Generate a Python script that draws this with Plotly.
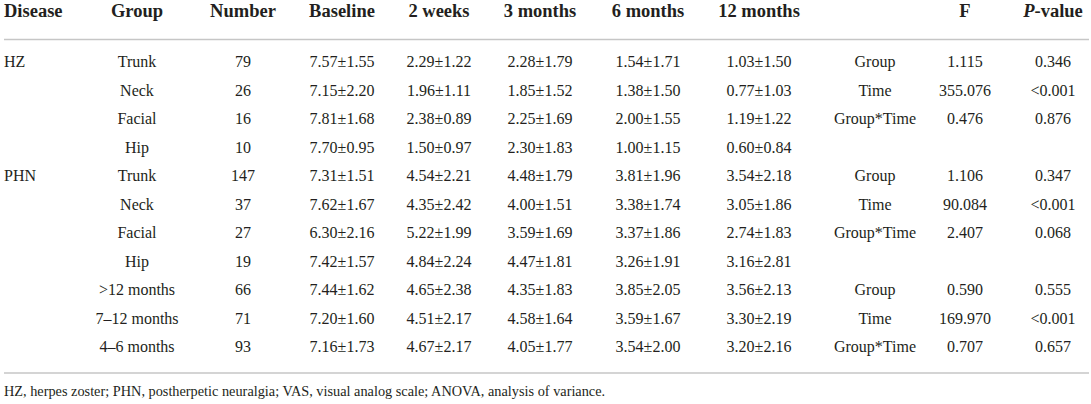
import plotly.graph_objects as go

# table contents
diseases = ["HZ", "", "", "", "PHN", "", "", "", "", "", ""]
groups = ["Trunk", "Neck", "Facial", "Hip", "Trunk", "Neck", "Facial", "Hip",
          ">12 months", "7–12 months", "4–6 months"]
numbers = [79, 26, 16, 10, 147, 37, 27, 19, 66, 71, 93]

baseline_mean = [7.57, 7.15, 7.81, 7.70, 7.31, 7.62, 6.30, 7.42, 7.44, 7.20, 7.16]
baseline_sd = [1.55, 2.20, 1.68, 0.95, 1.51, 1.67, 2.16, 1.57, 1.62, 1.60, 1.73]
wk2_mean = [2.29, 1.96, 2.38, 1.50, 4.54, 4.35, 5.22, 4.84, 4.65, 4.51, 4.67]
wk2_sd = [1.22, 1.11, 0.89, 0.97, 2.21, 2.42, 1.99, 2.24, 2.38, 2.17, 2.17]
m3_mean = [2.28, 1.85, 2.25, 2.30, 4.48, 4.00, 3.59, 4.47, 4.35, 4.58, 4.05]
m3_sd = [1.79, 1.52, 1.69, 1.83, 1.79, 1.51, 1.69, 1.81, 1.83, 1.64, 1.77]
m6_mean = [1.54, 1.38, 2.00, 1.00, 3.81, 3.38, 3.37, 3.26, 3.85, 3.59, 3.54]
m6_sd = [1.71, 1.50, 1.55, 1.15, 1.96, 1.74, 1.86, 1.91, 2.05, 1.67, 2.00]
m12_mean = [1.03, 0.77, 1.19, 0.60, 3.54, 3.05, 2.74, 3.16, 3.56, 3.30, 3.20]
m12_sd = [1.50, 1.03, 1.22, 0.84, 2.18, 1.86, 1.83, 2.81, 2.13, 2.19, 2.16]

effects = ["Group", "Time", "Group*Time", "",
           "Group", "Time", "Group*Time", "",
           "Group", "Time", "Group*Time"]
f_values = ["1.115", "355.076", "0.476", "",
            "1.106", "90.084", "2.407", "",
            "0.590", "169.970", "0.707"]
p_values = ["0.346", "<0.001", "0.876", "",
            "0.347", "<0.001", "0.068", "",
            "0.555", "<0.001", "0.657"]

headers = ["Disease", "Group", "Number", "Baseline", "2 weeks", "3 months",
           "6 months", "12 months", "", "F", "<i>P</i>-value"]

footnote = ("HZ, herpes zoster; PHN, postherpetic neuralgia; VAS, visual analog scale; "
            "ANOVA, analysis of variance.")


def fmt(means, sds):
    return [f"{m:.2f}±{s:.2f}" for m, s in zip(means, sds)]


columns = [
    diseases,
    groups,
    [str(n) for n in numbers],
    fmt(baseline_mean, baseline_sd),
    fmt(wk2_mean, wk2_sd),
    fmt(m3_mean, m3_sd),
    fmt(m6_mean, m6_sd),
    fmt(m12_mean, m12_sd),
    effects,
    f_values,
    p_values,
]

# layout of the table (pixel coordinates)
col_x = [4, 137, 243, 342, 439, 540, 648, 759, 875, 965, 1053]
header_y = 12.5
row_y0 = 63
row_h = 28.5
row_y = [row_y0 + row_h * i for i in range(len(groups))]

FONT = "Liberation Serif, Times New Roman, serif"
INK = "#231f20"

fig = go.Figure()

for i, (x, head, col) in enumerate(zip(col_x, headers, columns)):
    pos = "middle right" if i == 0 else "middle center"
    fig.add_trace(go.Scatter(
        x=[x], y=[header_y], mode="text", text=[f"<b>{head}</b>"],
        textposition=pos, textfont=dict(family=FONT, size=18.5, color=INK),
        hoverinfo="skip", showlegend=False))
    fig.add_trace(go.Scatter(
        x=[x] * len(col), y=row_y, mode="text", text=col,
        textposition=pos, textfont=dict(family=FONT, size=16, color=INK),
        hoverinfo="skip", showlegend=False))

# footnote
fig.add_trace(go.Scatter(
    x=[4], y=[392], mode="text", text=[footnote], textposition="middle right",
    textfont=dict(family=FONT, size=14.3, color=INK),
    hoverinfo="skip", showlegend=False))

# rules under header and at the bottom
for yl in [39.5, 373]:
    fig.add_shape(type="line", x0=4, x1=1089, y0=yl, y1=yl,
                  line=dict(color="#c6c6c6", width=1.6))

fig.update_xaxes(range=[0, 1091], visible=False, fixedrange=True)
fig.update_yaxes(range=[404, 0], visible=False, fixedrange=True)
fig.update_layout(width=1091, height=404, margin=dict(l=0, r=0, t=0, b=0),
                  plot_bgcolor="white", paper_bgcolor="white", hovermode=False)

# drop the default 8px page margin so the table sits at the window edge
fig.write_html("out.html", config={"displayModeBar": False},
               post_script="document.body.style.margin='0px';")
